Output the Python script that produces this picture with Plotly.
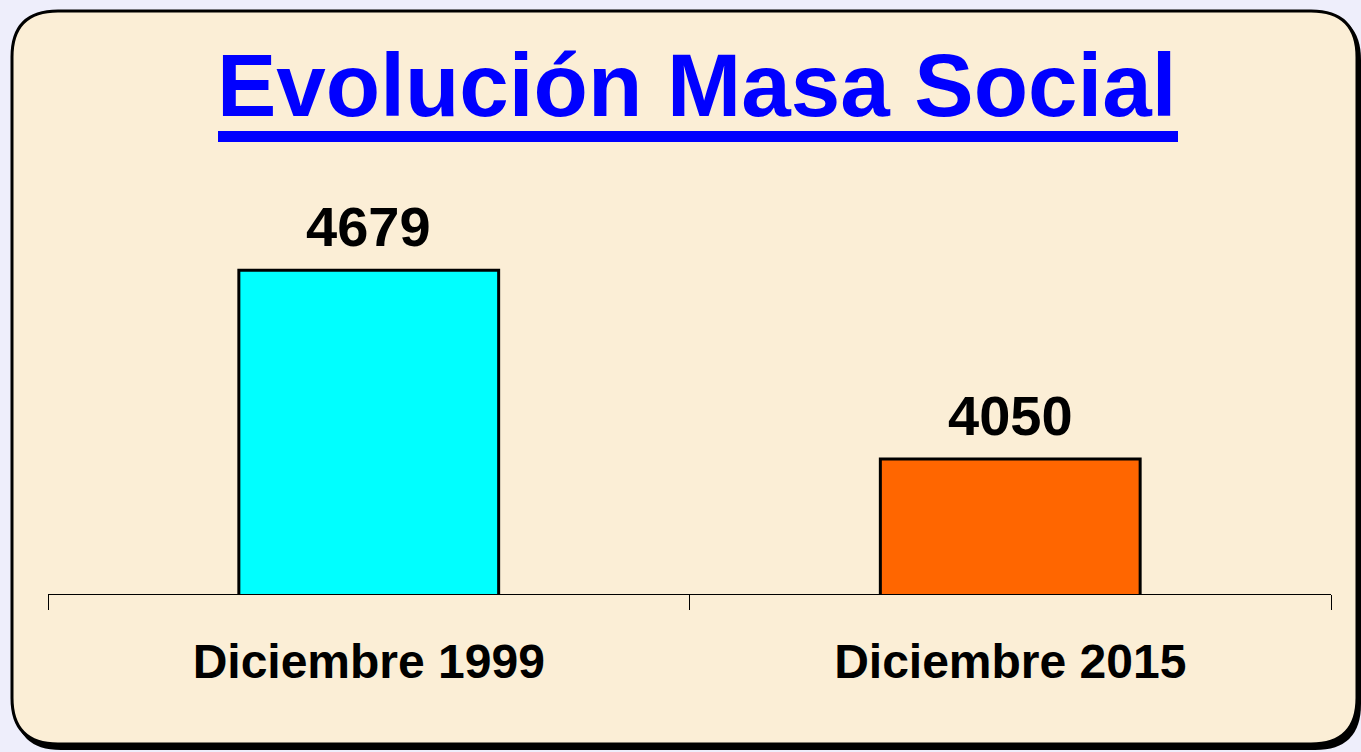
import plotly.graph_objects as go

# ---- data ----
categories = ["Diciembre 1999", "Diciembre 2015"]
values = [4679, 4050]
bar_colors = ["#00FFFF", "#FF6600"]
title_text = "Evolución Masa Social"

# ---- layout geometry (pixels) ----
W, H = 1361, 752
L, R, T, B = 48, 30, 174, 158
PW, PH = W - L - R, H - T - B


def px(x):
    return (x - L) / PW


def py(y):
    return (H - B - y) / PH


def rounded_path(x0, y0, x1, y1, r):
    pts = [
        f"M {px(x0 + r)} {py(y0)}",
        f"L {px(x1 - r)} {py(y0)}",
        f"Q {px(x1)} {py(y0)} {px(x1)} {py(y0 + r)}",
        f"L {px(x1)} {py(y1 - r)}",
        f"Q {px(x1)} {py(y1)} {px(x1 - r)} {py(y1)}",
        f"L {px(x0 + r)} {py(y1)}",
        f"Q {px(x0)} {py(y1)} {px(x0)} {py(y1 - r)}",
        f"L {px(x0)} {py(y0 + r)}",
        f"Q {px(x0)} {py(y0)} {px(x0 + r)} {py(y0)}",
        "Z",
    ]
    return " ".join(pts)


FONT = "Liberation Sans, Arial, Helvetica, sans-serif"
PARCH = "#FBEED6"

fig = go.Figure()
fig.add_trace(
    go.Bar(
        x=categories,
        y=values,
        marker=dict(color=bar_colors, line=dict(color="black", width=3)),
        width=0.405,
        hoverinfo="skip",
    )
)

shapes = [
    # shadow
    dict(type="path", xref="paper", yref="paper",
         path=rounded_path(15, 14, 1361, 750, 46),
         fillcolor="black", line=dict(width=0), layer="below"),
    # panel
    dict(type="path", xref="paper", yref="paper",
         path=rounded_path(12, 11, 1357, 744, 46),
         fillcolor=PARCH, line=dict(color="black", width=3), layer="below"),
    # title underline
    dict(type="rect", xref="paper", yref="paper",
         x0=px(218), x1=px(1178), y0=py(142), y1=py(131),
         fillcolor="#0000FF", line=dict(width=0)),
]

annotations = [
    dict(text=f"<b>{title_text}</b>", xref="paper", yref="paper",
         x=px(697), y=py(85), xanchor="center", yanchor="middle",
         showarrow=False, font=dict(family=FONT, size=89, color="#0000FF")),
]
for c, v in zip(categories, values):
    annotations.append(
        dict(text=f"<b>{v}</b>", x=c, y=v, xref="x", yref="y",
             xanchor="center", yanchor="bottom", yshift=10, showarrow=False,
             font=dict(family=FONT, size=56, color="black"))
    )

fig.update_layout(
    width=W, height=H,
    margin=dict(l=L, r=R, t=T, b=B),
    paper_bgcolor="#EEEEFB",
    plot_bgcolor="rgba(0,0,0,0)",
    showlegend=False,
    shapes=shapes,
    annotations=annotations,
    xaxis=dict(
        type="category",
        showline=True, linecolor="black", linewidth=1,
        ticks="outside", tickson="boundaries", ticklen=15, tickwidth=1,
        tickcolor="black",
        tickfont=dict(family=FONT, size=48, color="black", weight="bold"),
        showgrid=False, zeroline=False,
        ticklabelstandoff=25,
    ),
    yaxis=dict(range=[3600, 5000], visible=False, showgrid=False,
               zeroline=False),
)

fig.write_html(
    "out.html",
    config={"displayModeBar": False},
    post_script="document.body.style.margin='0';document.body.style.overflow='hidden';",
)
